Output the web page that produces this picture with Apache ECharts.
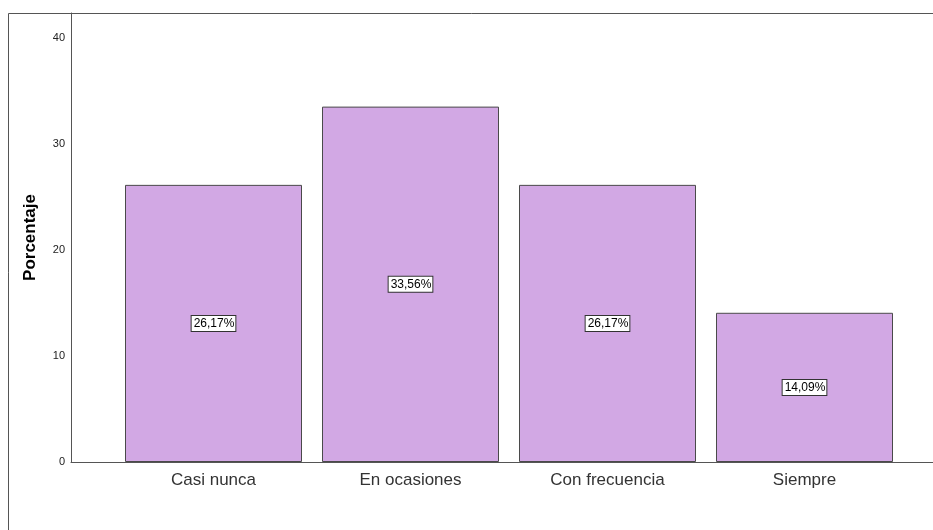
<!DOCTYPE html>
<html><head><meta charset="utf-8">
<script src="https://cdn.jsdelivr.net/npm/echarts@6/dist/echarts.min.js"></script>
<style>html,body{margin:0;padding:0;background:#fff}#c{width:933px;height:530px}</style>
</head><body><div id="c"></div>
<script>
const categories = ['Casi nunca', 'En ocasiones', 'Con frecuencia', 'Siempre'];
const values = [26.17, 33.56, 26.17, 14.09];
const yTicks = [0, 10, 20, 30, 40];

const chart = echarts.init(document.getElementById('c'), null, {renderer: 'canvas'});
const FONT = '"Liberation Sans", Arial, sans-serif';
const yMax = 42.4;
chart.setOption({
  animation: false,
  backgroundColor: '#fff',
  graphic: [{
    type: 'rect', shape: {x: 8.5, y: 13.5, width: 1000, height: 600},
    style: {fill: 'none', stroke: '#555', lineWidth: 1}, z: 0
  }],
  grid: [
    {left: 71, top: 13, right: -20, bottom: 68},
    {left: 115, top: 13, width: 788, bottom: 68}
  ],
  xAxis: [
    {gridIndex: 0, type: 'category', data: [''], axisLine: {lineStyle: {color: '#555'}}, axisTick: {show: false}, axisLabel: {show: false}},
    {gridIndex: 1, type: 'category', data: categories, axisLine: {show: false}, axisTick: {show: false},
     axisLabel: {color: '#333', fontSize: 17, fontFamily: FONT, margin: 10}}
  ],
  yAxis: [
    {gridIndex: 0, type: 'value', min: 0, max: yMax, interval: 10,
     name: 'Porcentaje', nameLocation: 'middle', nameGap: 32,
     nameTextStyle: {fontWeight: 'bold', fontSize: 17, fontFamily: FONT, color: '#000'},
     axisLine: {show: true, lineStyle: {color: '#555'}}, axisTick: {show: false}, splitLine: {show: false},
     axisLabel: {showMaxLabel: false, color: '#222', fontSize: 11, fontFamily: FONT, margin: 6,
       formatter: v => yTicks.includes(v) ? String(v) : ''}},
    {gridIndex: 1, type: 'value', min: 0, max: yMax, show: false}
  ],
  series: [{
    type: 'bar', xAxisIndex: 1, yAxisIndex: 1, data: values, barWidth: 177,
    itemStyle: {color: '#D2A8E4', borderColor: '#4a4a4a', borderWidth: 1},
    label: {show: true, position: 'inside', formatter: p => p.value.toFixed(2).replace('.', ',') + '%',
      color: '#000', fontSize: 12, fontFamily: FONT, backgroundColor: '#fff',
      borderColor: '#333', borderWidth: 1, padding: [2, 1, 1, 2]}
  }]
});
</script></body></html>
